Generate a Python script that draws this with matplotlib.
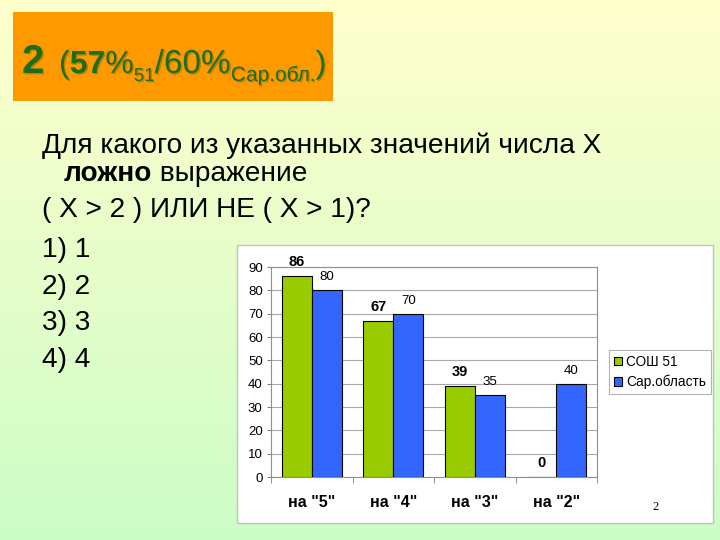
import matplotlib
matplotlib.use("Agg")
import numpy as np
import matplotlib.pyplot as plt
import matplotlib.patheffects as pe
from matplotlib.patches import Rectangle

# data
categories = ['на "5"', 'на "4"', 'на "3"', 'на "2"']
school = [86, 67, 39, 0]
region = [80, 70, 35, 40]
series_names = ["СОШ 51", "Сар.область"]

question_line1 = "Для какого из указанных значений числа X"
question_bold = "ложно"
question_rest = " выражение"
question_line3 = "( X > 2 ) ИЛИ НЕ ( X > 1)?"
answers = ["1) 1", "2) 2", "3) 3", "4) 4"]

plt.rcParams["font.family"] = ["Liberation Sans", "DejaVu Sans"]

W, H = 720, 540
fig = plt.figure(figsize=(7.2, 5.4), dpi=100)


def fx(px):
    return px / W


def fy(py):
    return 1 - py / H


# slide background: yellow at top fading to light green
bg = fig.add_axes([0, 0, 1, 1], zorder=-10)
t = np.linspace(0, 1, 256)[:, None]
top = np.array([1.0, 1.0, 0.80])
bottom = np.array([0.80, 0.99, 0.78])
img = (top * (1 - t) + bottom * t)[:, None, :]
bg.imshow(img, aspect="auto", extent=[0, 1, 0, 1])
bg.axis("off")

renderer = fig.canvas.get_renderer()

# orange title box
fig.patches.append(Rectangle((fx(13), fy(101)), 320 / W, 89 / H,
                             transform=fig.transFigure, zorder=-5,
                             facecolor="#FF9900", edgecolor="none"))

title_green = "#1C6E1C"
shadow = [pe.withSimplePatchShadow(offset=(1, -1),
                                   shadow_rgbFace="#6A6A00", alpha=0.45)]

fig.text(fx(22), fy(73), "2", fontsize=29, fontweight="bold",
         color=title_green, va="baseline", path_effects=shadow)

title_parts = [
    ("(", 23, "normal", 73),
    ("57", 23, "bold", 73),
    ("%", 23, "normal", 73),
    ("51", 13.5, "normal", 81),
    ("/60%", 24, "normal", 73),
    ("Сар.обл.", 15, "normal", 81),
    (")", 23, "normal", 73),
]
x = 59
for s, size, weight, base in title_parts:
    txt = fig.text(fx(x), fy(base), s, fontsize=size, fontweight=weight,
                   color=title_green, va="baseline", path_effects=shadow)
    x += txt.get_window_extent(renderer).width

# question text
qsize = 20.2
fig.text(fx(42), fy(153), question_line1, fontsize=qsize, va="baseline")
b = fig.text(fx(64), fy(181), question_bold, fontsize=qsize,
             fontweight="bold", va="baseline")
bx = 64 + b.get_window_extent(renderer).width
fig.text(fx(bx), fy(181), question_rest, fontsize=qsize, va="baseline")
fig.text(fx(42), fy(217), question_line3, fontsize=qsize, va="baseline")
for ans, base in zip(answers, [257, 294, 330, 367]):
    fig.text(fx(42), fy(base), ans, fontsize=qsize, va="baseline")

# white chart panel
fig.patches.append(Rectangle((fx(237), fy(523)), 476 / W, 278 / H,
                             transform=fig.transFigure, zorder=-5,
                             facecolor="white", edgecolor="#B8C8B8", lw=1))

ax = fig.add_axes([fx(271), fy(477), 326 / W, 210 / H])
ax.set_facecolor("none")
xpos = np.arange(len(categories))
w = 0.37
b1 = ax.bar(xpos - w / 2, school, w, color="#99CC00", edgecolor="black",
            lw=0.8, label=series_names[0], zorder=3)
b2 = ax.bar(xpos + w / 2, region, w, color="#3366FF", edgecolor="black",
            lw=0.8, label=series_names[1], zorder=3)
ax.bar_label(b1, padding=5, fontsize=10.5, fontweight="bold")
ax.bar_label(b2, padding=5, fontsize=9.5)

ax.set_xlim(-0.5, 3.5)
ax.set_ylim(0, 90)
ax.set_yticks(range(0, 91, 10))
ax.yaxis.grid(True, color="#A8A8A8", lw=0.8, zorder=0)
ax.set_axisbelow(True)
ax.set_xticks(xpos)
ax.set_xticklabels(categories, fontsize=11.5, fontweight="bold")
ax.set_xticks(np.arange(-0.5, 4, 1), minor=True)
ax.tick_params(axis="x", which="major", length=0, pad=13)
ax.tick_params(axis="x", which="minor", length=4, color="#808080")
ax.tick_params(axis="y", length=3, color="#808080", labelsize=9.5, pad=3)
for sp in ax.spines.values():
    sp.set_color("#909090")
    sp.set_linewidth(0.8)

leg = fig.legend(handles=[b1, b2], loc="upper left",
                 bbox_to_anchor=(fx(609), fy(350)), fontsize=9.8,
                 frameon=True, fancybox=False, edgecolor="#A0A0A0",
                 handlelength=0.6, handleheight=0.6, handletextpad=0.3,
                 borderpad=0.35, labelspacing=0.45, borderaxespad=0)
leg.get_frame().set_linewidth(0.8)

fig.text(fx(656), fy(510), "2", family="Liberation Serif", fontsize=9,
         ha="center", va="baseline")

fig.savefig("out.png", dpi=100)
